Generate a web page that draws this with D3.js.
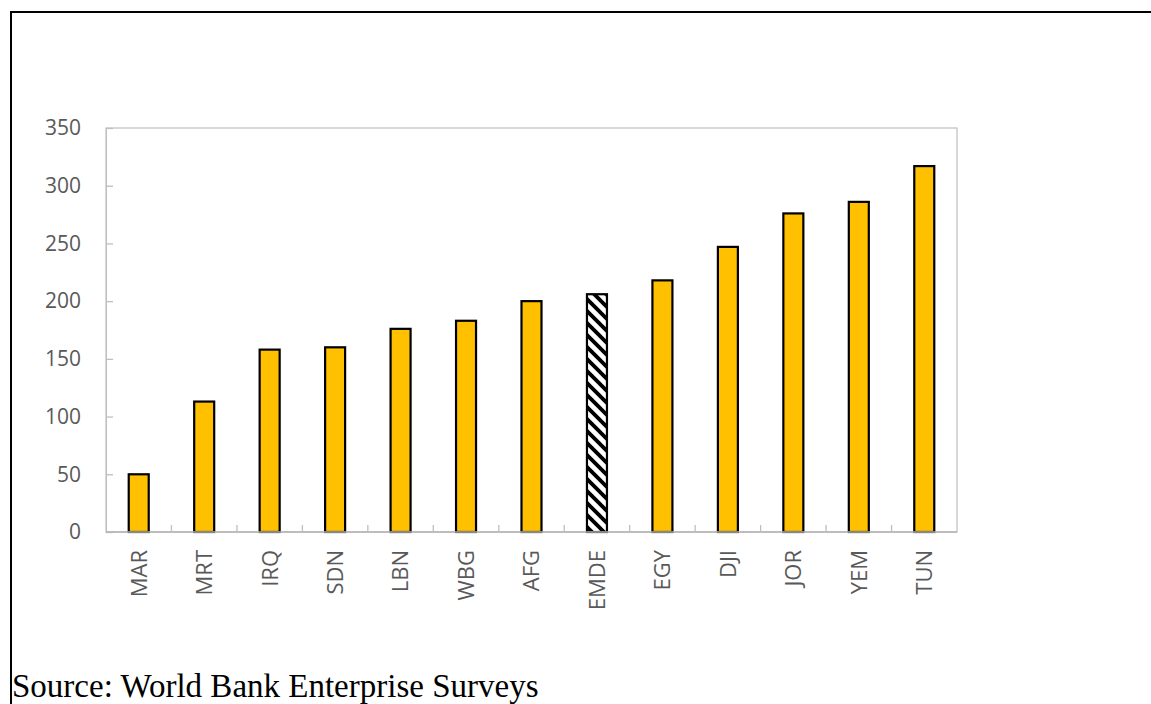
<!DOCTYPE html>
<html>
<head>
<meta charset="utf-8">
<script src="https://cdn.jsdelivr.net/npm/d3@7"></script>
<style>
  html, body { margin: 0; padding: 0; background: #fff; }
  svg { display: block; }
</style>
</head>
<body>
<svg id="chart" width="1151" height="704"></svg>
<script>
const categories = ["MAR","MRT","IRQ","SDN","LBN","WBG","AFG","EMDE","EGY","DJI","JOR","YEM","TUN"];
const values = [50, 113, 158, 160, 176, 183, 200, 206, 218, 247, 276, 286, 317];
const highlighted = ["EMDE"];
const yTicks = [0, 50, 100, 150, 200, 250, 300, 350];
const sourceText = "Source: World Bank Enterprise Surveys";

const svg = d3.select("#chart");
const W = 1151, H = 704;
const m = { left: 106, top: 128, right: 957, bottom: 532 };

// Outer frame (continues past right / bottom edges)
svg.append("path")
  .attr("d", `M11,${H + 5} L11,12 L${W + 5},12`)
  .attr("fill", "none").attr("stroke", "#000").attr("stroke-width", 2);

// Hatch pattern
const P = 12;
const defs = svg.append("defs");
const pat = defs.append("pattern")
  .attr("id", "hatch").attr("patternUnits", "userSpaceOnUse")
  .attr("width", P).attr("height", P);
pat.append("rect").attr("width", P).attr("height", P).attr("fill", "#fff");
pat.append("path")
  .attr("d", `M-3,-3 L${P + 3},${P + 3} M-3,${P - 3} L3,${P + 3} M${P - 3},-3 L${P + 3},3`)
  .attr("stroke", "#000").attr("stroke-width", 3.8);

const x = d3.scaleBand().domain(categories).range([m.left, m.right]).paddingInner(0).paddingOuter(0);
const y = d3.scaleLinear().domain([0, 350]).range([m.bottom, m.top]);

// Plot frame
svg.append("rect")
  .attr("x", m.left).attr("y", m.top)
  .attr("width", m.right - m.left).attr("height", m.bottom - m.top)
  .attr("fill", "none").attr("stroke", "#c4c4c4").attr("stroke-width", 1.3);

const labelFont = "'Open Sans', 'Noto Sans', sans-serif";

// Y axis
const yAxis = svg.append("g")
  .attr("transform", `translate(${m.left},0)`)
  .call(d3.axisRight(y).tickValues(yTicks).tickSize(7).tickFormat(d3.format("d")));
yAxis.select(".domain").attr("stroke", "#bfbfbf");
yAxis.selectAll(".tick line").attr("stroke", "#bfbfbf").attr("stroke-width", 1.3);
yAxis.selectAll(".tick text")
  .attr("x", -25).attr("text-anchor", "end")
  .attr("fill", "#595959")
  .style("font-family", labelFont)
  .style("font-size", "21px");

// Bars
const data = categories.map((c, i) => ({ c, v: values[i] }));
const bw = 20;
svg.append("g").selectAll("rect").data(data).join("rect")
  .attr("x", d => x(d.c) + x.bandwidth() / 2 - bw / 2)
  .attr("y", d => y(d.v))
  .attr("width", bw)
  .attr("height", d => y(0) - y(d.v))
  .attr("fill", d => highlighted.includes(d.c) ? "url(#hatch)" : "#FFC000")
  .attr("stroke", "#000").attr("stroke-width", 2.2);

// X axis line and boundary ticks
const xAxis = svg.append("g")
  .attr("transform", `translate(0,${m.bottom})`);
xAxis.append("line").attr("x1", m.left).attr("x2", m.right)
  .attr("stroke", "#b5b5b5").attr("stroke-width", 1.5);
xAxis.selectAll("line.bt").data(categories.slice(1)).join("line")
  .attr("class", "bt")
  .attr("x1", d => x(d)).attr("x2", d => x(d))
  .attr("y1", 0).attr("y2", -7)
  .attr("stroke", "#bfbfbf").attr("stroke-width", 1.3);
xAxis.selectAll("text").data(categories).join("text")
  .attr("transform", d => `translate(${x(d) + x.bandwidth() / 2},18) rotate(-90)`)
  .attr("dy", "0.36em")
  .attr("text-anchor", "end")
  .attr("fill", "#595959")
  .style("font-family", labelFont)
  .style("font-size", "22px")
  .text(d => d);

// Source
svg.append("text")
  .attr("x", 12).attr("y", 697)
  .attr("fill", "#000")
  .style("font-family", "'Liberation Serif', 'Times New Roman', serif")
  .style("font-size", "33px")
  .text(sourceText);
</script>
</body>
</html>
